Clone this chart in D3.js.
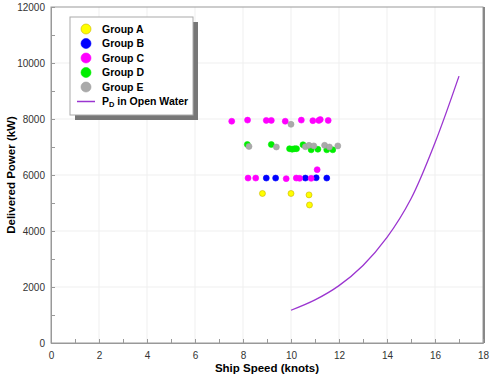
<!DOCTYPE html>
<html>
<head>
<meta charset="utf-8">
<script src="https://cdn.jsdelivr.net/npm/d3@7"></script>
<style>
  body { margin: 0; background: #fff; }
  svg { font-family: "Liberation Sans", Arial, sans-serif; }
</style>
</head>
<body>
<div id="chart"></div>
<script>
// scatter groups: [speed (knots), power (kW)]
const groupA = [[8.81, 5340], [10.0, 5340], [10.75, 5290], [10.77, 4930]];
const groupB = [[8.97, 5890], [9.36, 5890], [10.6, 5890], [11.05, 5900], [11.49, 5890]];
const groupC = [[7.53, 7920], [8.19, 7960], [8.97, 7950], [9.18, 7950], [9.76, 7920],
    [10.43, 7960], [10.91, 7940], [11.16, 7950], [11.22, 7980], [11.55, 7950],
    [8.21, 5890], [8.53, 5890], [9.8, 5870], [10.22, 5890], [10.36, 5880], [10.84, 5880], [11.09, 6190]];
const groupD = [[8.18, 7090], [9.18, 7090], [9.94, 6940], [10.05, 6920], [10.15, 6940], [10.23, 6940],
    [10.5, 7080], [10.84, 6900], [11.12, 6920], [11.49, 6900], [11.74, 6900]];
const groupE = [[8.25, 7020], [9.39, 7000], [10.0, 7810], [10.6, 7010], [10.75, 7060], [10.95, 7040],
    [11.4, 7060], [11.6, 7000], [11.95, 7040]];
// P_D in open water curve
const curveSpeed = [10, 11, 12, 13, 14, 15, 16, 17];
const curvePower = [1170, 1540, 2050, 2770, 3770, 5150, 7150, 9530];

const xTicks = [0, 2, 4, 6, 8, 10, 12, 14, 16, 18];
const yTicks = [0, 2000, 4000, 6000, 8000, 10000, 12000];

const groups = [
    { name: 'Group A', data: groupA, fill: '#ffff00', stroke: '#c8b400' },
    { name: 'Group B', data: groupB, fill: '#0000ff', stroke: '#0000ff' },
    { name: 'Group C', data: groupC, fill: '#ff00ff', stroke: '#ff00ff' },
    { name: 'Group D', data: groupD, fill: '#00ee00', stroke: '#00ee00' },
    { name: 'Group E', data: groupE, fill: '#aaaaaa', stroke: '#a0a0a0' }
];

const W = 490, H = 375;
const pLeft = 51, pRight = 483, pTop = 7, pBottom = 343;

const svg = d3.select('#chart').append('svg')
    .attr('width', W)
    .attr('height', H);

const x = d3.scaleLinear().domain([0, 18]).range([pLeft, pRight]);
const y = d3.scaleLinear().domain([0, 12000]).range([pBottom, pTop]);

// grid lines
svg.append('g').selectAll('line')
    .data(xTicks.slice(1, -1))
    .enter().append('line')
    .attr('x1', d => x(d)).attr('x2', d => x(d))
    .attr('y1', pTop).attr('y2', pBottom)
    .attr('stroke', '#efefef');
svg.append('g').selectAll('line')
    .data(yTicks.slice(1, -1))
    .enter().append('line')
    .attr('x1', pLeft).attr('x2', pRight)
    .attr('y1', d => y(d)).attr('y2', d => y(d))
    .attr('stroke', '#efefef');

// frame
svg.append('rect')
    .attr('x', pLeft).attr('y', pTop)
    .attr('width', pRight - pLeft).attr('height', pBottom - pTop)
    .attr('fill', 'none')
    .attr('stroke', '#999');
svg.append('line')
    .attr('x1', pRight + 1).attr('x2', pRight + 1)
    .attr('y1', pTop).attr('y2', pBottom)
    .attr('stroke', '#888').attr('stroke-width', 2);

// axes (ticks inside)
const xAxis = d3.axisBottom(x)
    .tickValues(d3.range(0, 19, 1))
    .tickSize(-4)
    .tickFormat(d => d % 2 === 0 ? d : '');
const gx = svg.append('g')
    .attr('transform', `translate(0,${pBottom})`)
    .call(xAxis);
gx.select('.domain').attr('stroke', '#999');
gx.selectAll('.tick line').attr('stroke', '#999');
gx.selectAll('.tick text')
    .attr('y', 9)
    .attr('font-size', 10)
    .attr('fill', '#333')
    .attr('font-family', '"Liberation Sans", Arial, sans-serif');

const yAxis = d3.axisLeft(y)
    .tickValues(d3.range(0, 12001, 1000))
    .tickSize(-4)
    .tickFormat(d => d % 2000 === 0 ? d : '');
const gy = svg.append('g')
    .attr('transform', `translate(${pLeft},0)`)
    .call(yAxis);
gy.select('.domain').attr('stroke', '#999');
gy.selectAll('.tick line').attr('stroke', '#999');
gy.selectAll('.tick text')
    .attr('x', -6)
    .attr('font-size', 10)
    .attr('fill', '#333')
    .attr('font-family', '"Liberation Sans", Arial, sans-serif');

// axis titles
svg.append('text')
    .attr('x', (pLeft + pRight) / 2)
    .attr('y', 372)
    .attr('text-anchor', 'middle')
    .attr('font-size', 11.5)
    .attr('font-weight', 'bold')
    .text('Ship Speed (knots)');
svg.append('text')
    .attr('transform', `translate(15,${(pTop + pBottom) / 2}) rotate(-90)`)
    .attr('text-anchor', 'middle')
    .attr('font-size', 11.5)
    .attr('font-weight', 'bold')
    .text('Delivered Power (kW)');

// curve
const line = d3.line()
    .x((d, i) => x(curveSpeed[i]))
    .y(d => y(d))
    .curve(d3.curveCatmullRom);
svg.append('path')
    .datum(curvePower)
    .attr('d', line)
    .attr('fill', 'none')
    .attr('stroke', '#9b35d0')
    .attr('stroke-width', 1.3);

// scatter points
groups.forEach(g => {
    svg.append('g').selectAll('circle')
        .data(g.data)
        .enter().append('circle')
        .attr('cx', d => x(d[0]))
        .attr('cy', d => y(d[1]))
        .attr('r', 3)
        .attr('fill', g.fill)
        .attr('stroke', g.stroke)
        .attr('stroke-width', 0.6);
});

// legend
const lg = svg.append('g').attr('transform', 'translate(70,17)');
lg.append('rect')
    .attr('x', 5).attr('y', 5)
    .attr('width', 123).attr('height', 98)
    .attr('fill', '#777');
lg.append('rect')
    .attr('x', 0).attr('y', 0)
    .attr('width', 123).attr('height', 98)
    .attr('fill', '#fff')
    .attr('stroke', '#aaa');

groups.forEach((g, i) => {
    const yy = 12 + i * 14.5;
    lg.append('circle')
        .attr('cx', 16).attr('cy', yy)
        .attr('r', 5)
        .attr('fill', g.fill)
        .attr('stroke', g.stroke)
        .attr('stroke-width', 0.6);
    lg.append('text')
        .attr('x', 32).attr('y', yy + 3.8)
        .attr('font-size', 10.5)
        .attr('font-weight', 'bold')
        .text(g.name);
});
const ly = 12 + 5 * 14.5;
lg.append('line')
    .attr('x1', 7).attr('x2', 25)
    .attr('y1', ly).attr('y2', ly)
    .attr('stroke', '#9b35d0')
    .attr('stroke-width', 1.5);
const pt = lg.append('text')
    .attr('x', 32).attr('y', ly + 3.8)
    .attr('font-size', 10.5)
    .attr('font-weight', 'bold');
pt.append('tspan').text('P');
pt.append('tspan').attr('font-size', 7.5).attr('dy', 2).text('D');
pt.append('tspan').attr('dy', -2).text(' in Open Water');
</script>
</body>
</html>
